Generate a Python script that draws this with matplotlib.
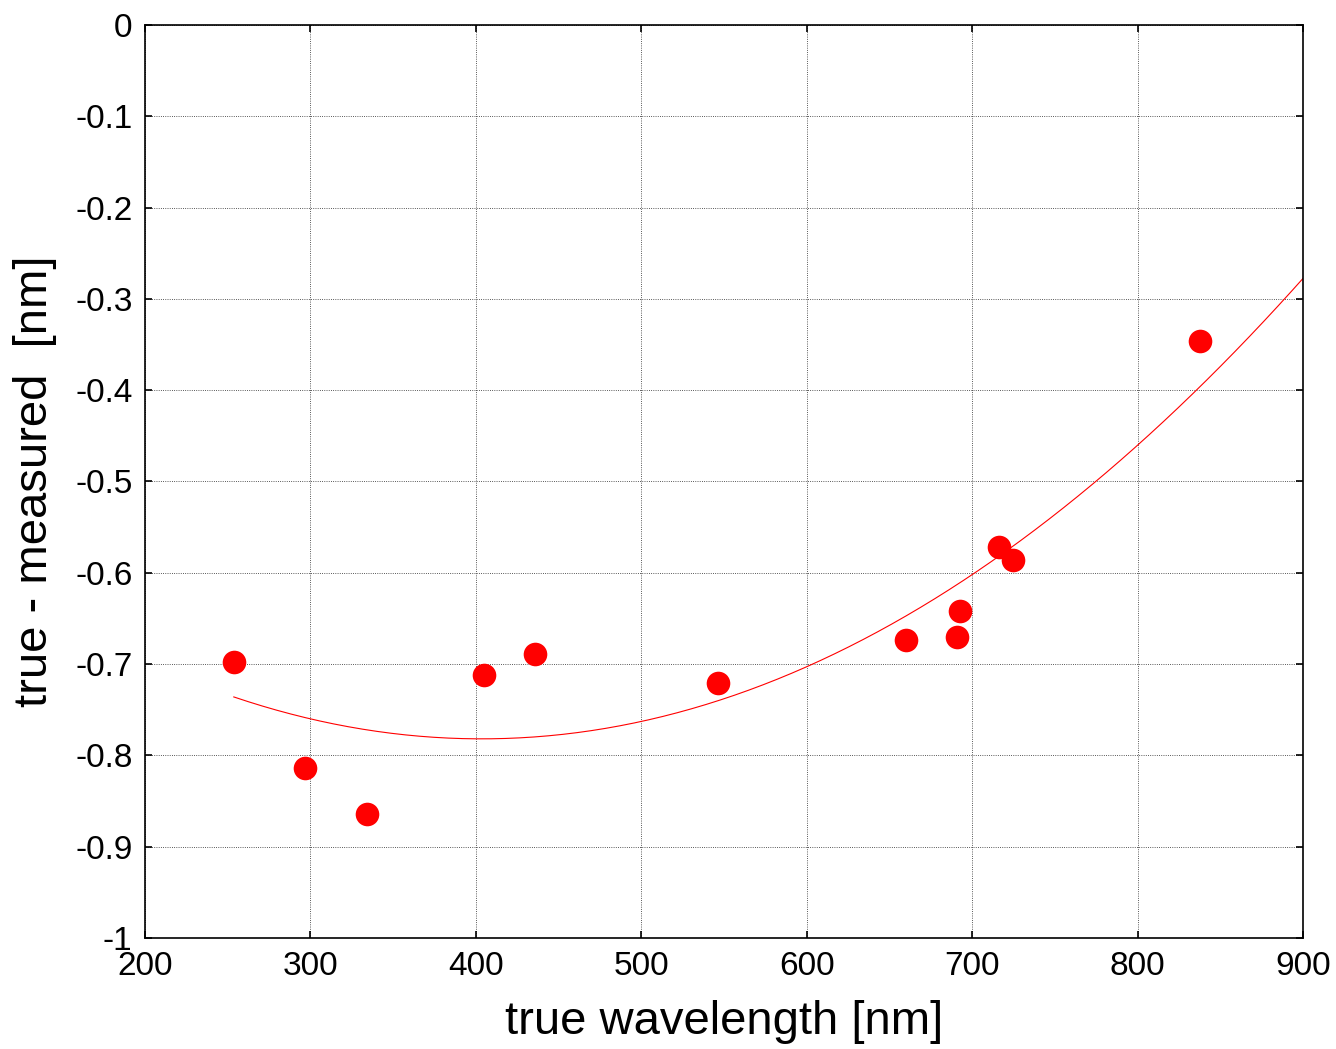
import matplotlib
matplotlib.use('Agg')
import matplotlib.pyplot as plt
from matplotlib.ticker import FuncFormatter
import numpy as np

plt.rcParams['font.family'] = ['Liberation Sans', 'DejaVu Sans']
plt.rcParams['axes.unicode_minus'] = False

# measured lines: true wavelength [nm] and (true - measured) [nm]
wavelength = [253.7, 296.7, 334.1, 404.7, 435.8, 546.1, 660.0, 691.0, 692.5, 716.0, 725.0, 837.8]
difference = [-0.698, -0.814, -0.864, -0.712, -0.689, -0.721, -0.674, -0.670, -0.642, -0.572, -0.586, -0.346]

# quadratic fit drawn from first point out to 900 nm
coef = np.polyfit(wavelength, difference, 2)
xfit = np.linspace(wavelength[0], 900, 300)
yfit = np.polyval(coef, xfit)

fig = plt.figure(figsize=(13.36, 10.49), dpi=100)
ax = fig.add_axes([0.1085, 0.1058, 0.8668, 0.8704])

ax.plot(xfit, yfit, color='red', linewidth=0.8, zorder=2)
ax.plot(wavelength, difference, 'o', color='red', markersize=17, markeredgewidth=0, zorder=3)

ax.set_xlim(200, 900)
ax.set_ylim(-1, 0)
ax.set_xticks(np.arange(200, 901, 100))
ax.set_yticks(np.arange(-1, 0.01, 0.1))
ax.yaxis.set_major_formatter(FuncFormatter(lambda v, p: f"{round(v, 1):g}" if abs(v) > 1e-9 else "0"))

ax.grid(True, color='#222222', linestyle=':', linewidth=0.6)
ax.tick_params(direction='in', length=5, width=1.2, labelsize=24, top=True, right=True)
ax.tick_params(axis='x', pad=9)
ax.tick_params(axis='y', pad=9)
for s in ax.spines.values():
    s.set_linewidth(1.2)

ax.set_xlabel('true wavelength [nm]', fontsize=34, labelpad=13)
ax.set_ylabel('true - measured  [nm]', fontsize=34, labelpad=13)

fig.savefig('out.png', dpi=100, facecolor='white')
